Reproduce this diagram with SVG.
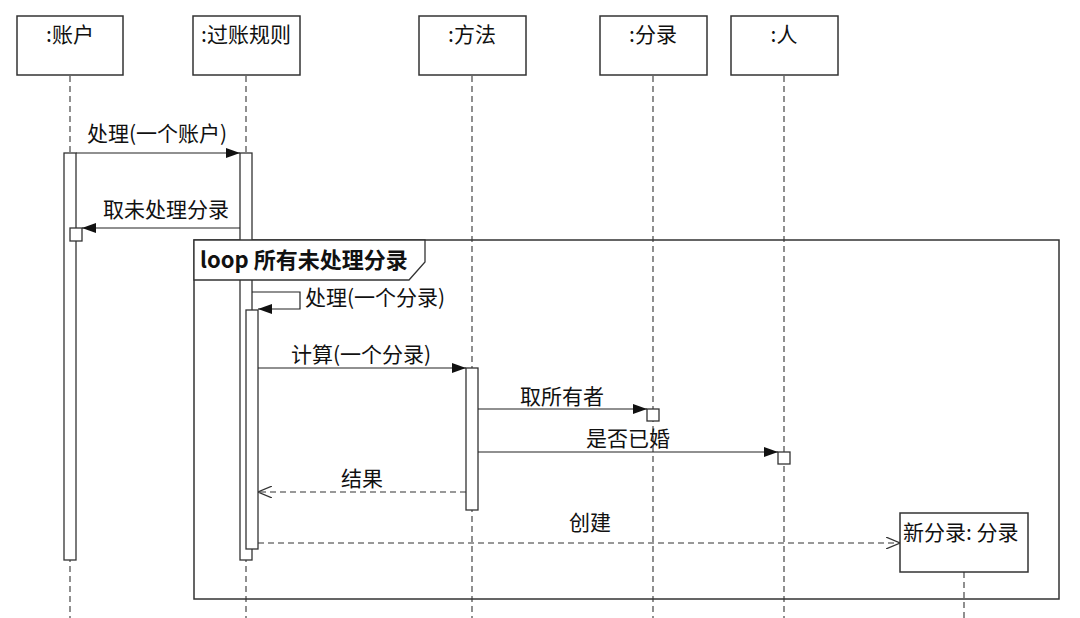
<svg xmlns="http://www.w3.org/2000/svg" width="1080" height="618" viewBox="0 0 1080 618">
<defs>
<style>
text{font-family:"Noto Sans CJK SC","Liberation Sans",sans-serif;font-size:21px;fill:#111}
.box{fill:#fff;stroke:#333;stroke-width:1.5}
.life{stroke:#555;stroke-width:1.3;stroke-dasharray:6,4;fill:none}
.act{fill:#fff;stroke:#333;stroke-width:1.3}
.msg{stroke:#222;stroke-width:1.2;fill:none}
.ret{stroke:#333;stroke-width:1.2;fill:none;stroke-dasharray:6,4}
.mid{text-anchor:middle}
</style>
<marker id="fill" markerWidth="14" markerHeight="10" refX="14" refY="5" orient="auto" markerUnits="userSpaceOnUse">
<path d="M0,0 L14,5 L0,10 Z" fill="#111"/>
</marker>
<marker id="open" markerWidth="14" markerHeight="12" refX="14" refY="6" orient="auto" markerUnits="userSpaceOnUse">
<path d="M0,0 L14,6 L0,12" fill="none" stroke="#333" stroke-width="1.2"/>
</marker>
</defs>
<rect width="1080" height="618" fill="#fff"/>

<g id="lifelines">
<line class="life" x1="70" y1="76" x2="70" y2="618"/>
<line class="life" x1="246" y1="76" x2="246" y2="618"/>
<line class="life" x1="472" y1="76" x2="472" y2="618"/>
<line class="life" x1="653" y1="76" x2="653" y2="618"/>
<line class="life" x1="784" y1="76" x2="784" y2="618"/>
<line class="life" x1="964" y1="572" x2="964" y2="618"/>
</g>

<rect id="loop-frame" x="194" y="240" width="865" height="359" fill="none" stroke="#333" stroke-width="1.5"/>

<g id="node-account">
<rect class="box" x="17" y="16" width="106" height="59"/>
<text class="mid" x="70" y="42">:账户</text>
<rect class="act" x="64" y="153" width="12" height="407"/>
<rect class="act" x="70" y="228" width="12" height="13"/>
</g>

<g id="node-rule">
<rect class="box" x="193" y="16" width="107" height="59"/>
<text class="mid" x="246" y="42">:过账规则</text>
<rect class="act" x="240" y="153" width="12" height="407"/>
<rect class="act" x="246" y="310" width="12" height="239"/>
</g>

<g id="node-method">
<rect class="box" x="419" y="16" width="107" height="59"/>
<text class="mid" x="472" y="42">:方法</text>
<rect class="act" x="466" y="368" width="12" height="142"/>
</g>

<g id="node-entry">
<rect class="box" x="600" y="16" width="107" height="59"/>
<text class="mid" x="653" y="42">:分录</text>
<rect class="act" x="647" y="409" width="12" height="12"/>
</g>

<g id="node-person">
<rect class="box" x="731" y="16" width="107" height="59"/>
<text class="mid" x="784" y="42">:人</text>
<rect class="act" x="778" y="452" width="12" height="12"/>
</g>

<g id="node-newentry">
<rect class="box" x="900" y="513" width="128" height="59"/>
<text x="903" y="540">新分录: 分录</text>
</g>

<g id="loop-label">
<path d="M194,280 L409,280 L425,262 L425,240 L194,240 Z" fill="#fff" stroke="#333" stroke-width="1.3"/>
<text x="200" y="268" style="font-weight:bold;font-size:22px">loop 所有未处理分录</text>
</g>

<g id="connectors">
<line class="msg" x1="76" y1="153" x2="240" y2="153" marker-end="url(#fill)"/>
<text class="mid" x="157" y="141">处理(一个账户)</text>

<line class="msg" x1="240" y1="228" x2="82" y2="228" marker-end="url(#fill)"/>
<text class="mid" x="166" y="217">取未处理分录</text>

<path class="msg" d="M252,292 L300,292 L300,309 L258,309" marker-end="url(#fill)"/>
<text x="305" y="305">处理(一个分录)</text>

<line class="msg" x1="258" y1="368" x2="466" y2="368" marker-end="url(#fill)"/>
<text class="mid" x="361" y="362">计算(一个分录)</text>

<line class="msg" x1="478" y1="409" x2="647" y2="409" marker-end="url(#fill)"/>
<text class="mid" x="562" y="404">取所有者</text>

<line class="msg" x1="478" y1="452" x2="778" y2="452" marker-end="url(#fill)"/>
<text class="mid" x="628" y="446">是否已婚</text>

<line class="ret" x1="466" y1="492" x2="258" y2="492" marker-end="url(#open)"/>
<text class="mid" x="362" y="486">结果</text>

<line class="ret" x1="258" y1="543" x2="900" y2="543" marker-end="url(#open)"/>
<text class="mid" x="590" y="530">创建</text>
</g>
</svg>
